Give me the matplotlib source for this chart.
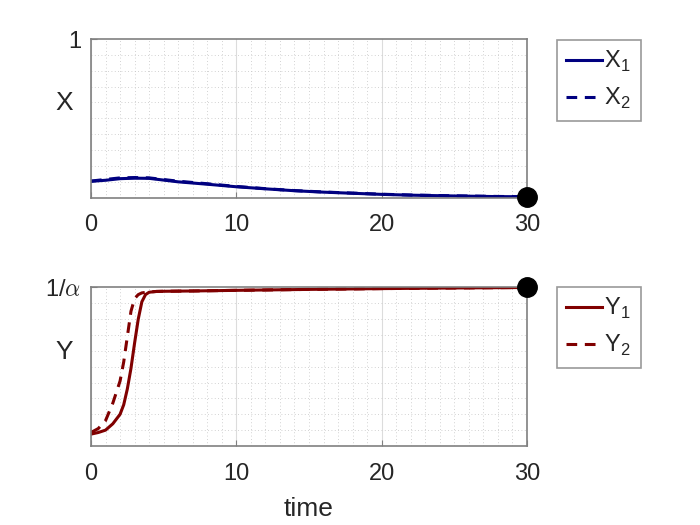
import numpy as np
import matplotlib
matplotlib.use('Agg')
import matplotlib.pyplot as plt
from matplotlib.ticker import MultipleLocator

plt.rcParams['font.family'] = ['Liberation Sans', 'DejaVu Sans']
plt.rcParams['mathtext.fontset'] = 'cm'

# top panel: X1, X2
tx = [0, 1, 2, 3, 4, 6, 8, 10, 12, 14, 16, 18, 20, 22, 25, 28, 30]
x1 = [0.103, 0.110, 0.120, 0.123, 0.122, 0.100, 0.085, 0.069, 0.056, 0.044,
      0.035, 0.028, 0.021, 0.016, 0.011, 0.007, 0.006]
x2 = [0.105, 0.115, 0.125, 0.127, 0.125, 0.104, 0.088, 0.071, 0.057, 0.045,
      0.036, 0.029, 0.022, 0.017, 0.012, 0.008, 0.006]

# bottom panel: Y1, Y2 (scaled so 1 = 1/alpha)
ty1 = [0, 0.5, 1, 1.5, 2, 2.25, 2.5, 2.75, 3, 3.25, 3.5, 3.75, 4, 4.5, 5,
       7, 10, 15, 20, 25, 30]
y1 = [0.075, 0.085, 0.100, 0.140, 0.200, 0.260, 0.360, 0.490, 0.650, 0.800,
      0.910, 0.955, 0.970, 0.975, 0.976, 0.978, 0.982, 0.988, 0.993, 0.997, 1.0]
ty2 = [0, 0.5, 1, 1.5, 2, 2.25, 2.5, 2.75, 3, 3.25, 3.5, 4, 4.5, 5,
       7, 10, 15, 20, 25, 30]
y2 = [0.085, 0.110, 0.160, 0.270, 0.410, 0.530, 0.690, 0.850, 0.930, 0.955,
      0.966, 0.972, 0.975, 0.976, 0.978, 0.982, 0.988, 0.993, 0.997, 1.0]

end_t = 30
end_x = 0.005
end_y = 1.0

xticks = [0, 10, 20, 30]
col_x = '#000080'
col_y = '#800000'
txt = '#262626'
box = '#808080'

fig = plt.figure(figsize=(7, 5.25), dpi=100)
ax1 = fig.add_axes([0.13, 0.6234, 0.6229, 0.3023])
ax2 = fig.add_axes([0.13, 0.1505, 0.6229, 0.3019])


def style(ax, ylab, ytick_lab, ly):
    ax.set_xlim(0, 30)
    ax.set_ylim(0, 1)
    ax.set_xticks(xticks)
    ax.set_yticks([1])
    ax.set_yticklabels([ytick_lab])
    ax.xaxis.set_minor_locator(MultipleLocator(1))
    ax.yaxis.set_minor_locator(MultipleLocator(0.1))
    ax.grid(True, which='major', axis='x', color='#dcdcdc', lw=0.8, ls='-')
    ax.grid(True, which='minor', color='#c4c4c4', lw=0.6, ls=(0, (1, 3)))
    ax.tick_params(which='both', direction='in', colors=box, labelcolor=txt,
                   labelsize=17, length=4, width=0.8)
    ax.tick_params(which='minor', length=0)
    ax.tick_params(axis='x', pad=12)
    ax.tick_params(axis='y', pad=7)
    for s in ax.spines.values():
        s.set_color(box)
        s.set_linewidth(1.2)
    ax.set_ylabel(ylab, rotation=0, fontsize=19, color=txt, va='center')
    ax.yaxis.set_label_coords(-0.062, ly)
    ax.set_axisbelow(True)


ax1.plot(tx, x1, color=col_x, lw=2.2, label=r'X$_{\mathregular{1}}$')
ax1.plot(tx, x2, color=col_x, lw=2.2, ls=(0, (3.5, 2.5)), label=r'X$_{\mathregular{2}}$')
ax1.plot([end_t], [end_x], 'o', color='k', ms=14, clip_on=False, zorder=5)
style(ax1, 'X', '1', 0.597)

ax2.plot(ty1, y1, color=col_y, lw=2.2, label=r'Y$_{\mathregular{1}}$')
ax2.plot(ty2, y2, color=col_y, lw=2.2, ls=(0, (3.5, 2.5)), label=r'Y$_{\mathregular{2}}$')
ax2.plot([end_t], [end_y], 'o', color='k', ms=14, clip_on=False, zorder=5)
style(ax2, 'Y', r'1/$\alpha$', 0.595)
ax2.set_xlabel('time', fontsize=19, color=txt, labelpad=9)

for ax, ypos in [(ax1, 0.9238), (ax2, 0.4533)]:
    lg = ax.legend(loc='upper left', bbox_to_anchor=(0.7957, ypos),
                   bbox_transform=fig.transFigure, fontsize=17, frameon=True,
                   fancybox=False, edgecolor=box, handlelength=1.5,
                   handletextpad=0.1, borderpad=0.4, labelspacing=0.5,
                   borderaxespad=0)
    lg.get_frame().set_linewidth(1.2)
    for t in lg.get_texts():
        t.set_color(txt)

fig.savefig('out.png', dpi=100)
